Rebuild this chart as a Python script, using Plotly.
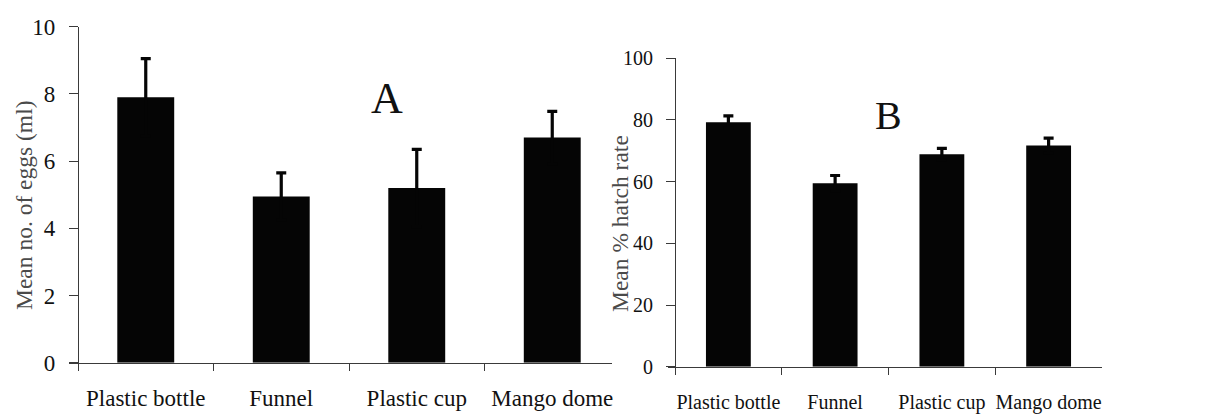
import plotly.graph_objects as go

W, H = 1228, 414

# Shared categories
categories = ["Plastic bottle", "Funnel", "Plastic cup", "Mango dome"]

# Panel A: mean number of eggs (ml) with standard error
eggs_mean = [7.9, 4.95, 5.2, 6.7]
eggs_err = [1.15, 0.7, 1.15, 0.78]

# Panel B: mean % hatch rate with standard error
hatch_mean = [79.3, 59.5, 68.9, 71.7]
hatch_err = [2.0, 2.5, 1.9, 2.4]

FONT = "Liberation Serif"
AXIS_COLOR = "#3a3a3a"
TEXT_COLOR = "#111111"
TITLE_COLOR = "#4a4a4a"
BAR_COLOR = "#050505"


def px_x(p):
    return p / W


def px_y(p):
    return 1 - p / H


fig = go.Figure()

# Error bars are symmetric; the lower half sits inside the black bar.
fig.add_trace(go.Bar(
    x=categories, y=eggs_mean, width=0.42,
    marker=dict(color=BAR_COLOR, line=dict(width=0)),
    error_y=dict(type="data", symmetric=True, array=eggs_err,
                 color=BAR_COLOR, thickness=3.2, width=5),
    xaxis="x", yaxis="y", showlegend=False,
))

fig.add_trace(go.Bar(
    x=categories, y=hatch_mean, width=0.42,
    marker=dict(color=BAR_COLOR, line=dict(width=0)),
    error_y=dict(type="data", symmetric=True, array=hatch_err,
                 color=BAR_COLOR, thickness=3.2, width=5),
    xaxis="x2", yaxis="y2", showlegend=False,
))

# Panel A geometry: y axis at x=78, category step 135.5 px, clipped on the right at 612
a_left, a_axis, a_right = 69, 78, 612
a_step = 135.5
a_lo = -0.5 - (a_axis - a_left) / a_step
a_hi = -0.5 + (a_right - a_axis) / a_step

# Panel B geometry: y axis at x=675, category step 106.7 px
b_left, b_axis, b_right = 668, 675, 1102
b_step = (b_right - b_axis) / 4
b_lo = -0.5 - (b_axis - b_left) / b_step
b_hi = 3.5

common_x = dict(
    type="category", tickson="boundaries", ticks="outside", ticklen=7,
    tickwidth=1, tickcolor=AXIS_COLOR, showline=True, linecolor=AXIS_COLOR,
    linewidth=1.2, showgrid=False, zeroline=False,
    fixedrange=True, tickangle=0, automargin=False,
)
common_y = dict(
    ticks="outside", ticklen=9, tickwidth=1, tickcolor=AXIS_COLOR,
    showline=True, linecolor=AXIS_COLOR, linewidth=1.2, showgrid=False,
    zeroline=False, anchor="free", automargin=False, ticklabelstandoff=9,
)

fig.update_layout(
    width=W, height=H,
    margin=dict(l=0, r=0, t=0, b=0, autoexpand=False),
    paper_bgcolor="white", plot_bgcolor="white",
    xaxis=dict(common_x, domain=[px_x(a_left), px_x(a_right)],
               range=[a_lo, a_hi], anchor="y", ticklabelstandoff=15,
               tickfont=dict(family=FONT, size=23, color=TEXT_COLOR)),
    yaxis=dict(common_y, domain=[px_y(362.7), px_y(26.7)], range=[0, 10],
               tickvals=[0, 2, 4, 6, 8, 10], position=px_x(a_axis),
               tickfont=dict(family=FONT, size=23, color=TEXT_COLOR)),
    xaxis2=dict(common_x, domain=[px_x(b_left), px_x(b_right)],
                range=[b_lo, b_hi], anchor="y2", ticklabelstandoff=17,
                tickfont=dict(family=FONT, size=20, color=TEXT_COLOR)),
    yaxis2=dict(common_y, domain=[px_y(366.7), px_y(58.3)], range=[0, 100],
                tickvals=[0, 20, 40, 60, 80, 100], position=px_x(b_axis),
                tickfont=dict(family=FONT, size=20, color=TEXT_COLOR)),
    annotations=[
        dict(text="Mean no. of eggs (ml)", textangle=-90, x=px_x(24), y=px_y(205),
             xref="paper", yref="paper", xanchor="center", yanchor="middle",
             showarrow=False, font=dict(family=FONT, size=23.5, color=TITLE_COLOR)),
        dict(text="Mean % hatch rate", textangle=-90, x=px_x(620), y=px_y(224),
             xref="paper", yref="paper", xanchor="center", yanchor="middle",
             showarrow=False, font=dict(family=FONT, size=23.5, color=TITLE_COLOR)),
        dict(text="A", x=px_x(387), y=px_y(99), xref="paper", yref="paper",
             xanchor="center", yanchor="middle", showarrow=False,
             font=dict(family=FONT, size=44, color=TEXT_COLOR)),
        dict(text="B", x=px_x(888), y=px_y(115), xref="paper", yref="paper",
             xanchor="center", yanchor="middle", showarrow=False,
             font=dict(family=FONT, size=40, color=TEXT_COLOR)),
    ],
)

fig.write_html("out.html")
